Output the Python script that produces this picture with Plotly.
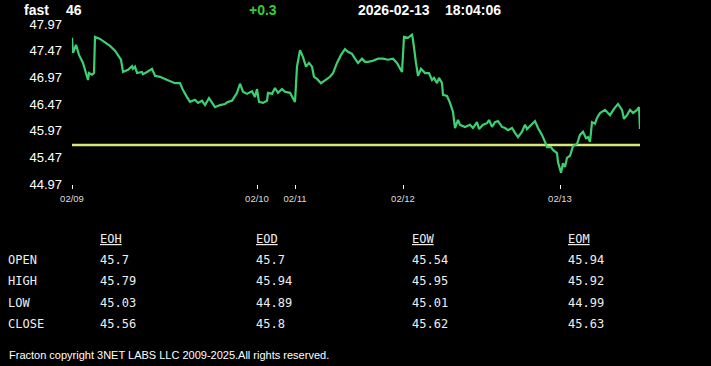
import plotly.graph_objects as go

# ---------------- data ----------------
t_idx = [0, 1, 4, 7, 11, 14, 16, 17, 20, 22, 23, 28, 33, 38, 43, 47, 49, 51, 56, 60,
         61, 63, 65, 70, 71, 75, 80, 83, 88, 93, 98, 103, 108, 111, 115, 118, 123, 126, 130, 133,
         137, 140, 143, 148, 153, 156, 160, 165, 168, 171, 175, 180, 183, 185, 187, 191, 195, 196, 200, 203,
         206, 210, 213, 218, 223, 225, 228, 231, 234, 237, 240, 242, 245, 249, 253, 258, 261, 265, 269, 273,
         276, 280, 283, 286, 290, 293, 296, 301, 306, 311, 316, 321, 325, 330, 332, 336, 340, 341, 344, 346,
         349, 353, 357, 360, 362, 365, 367, 370, 371, 375, 378, 381, 383, 386, 388, 393, 398, 401, 405, 407,
         411, 415, 417, 420, 423, 426, 430, 433, 436, 440, 443, 446, 450, 453, 455, 458, 463, 466, 470, 473,
         475, 479, 481, 485, 486, 489, 491, 493, 495, 498, 501, 505, 508, 511, 514, 516, 518, 520, 523, 525,
         528, 533, 538, 542, 546, 550, 552, 555, 558, 561, 565, 567, 568]
price = [47.71, 47.43, 47.58, 47.39, 47.24, 47.07, 46.92, 47.05, 47.02, 47.05, 47.73, 47.69, 47.62, 47.56, 47.47, 47.35, 47.30, 47.07, 47.11, 47.18,
         47.13, 47.17, 47.05, 47.07, 47.03, 47.07, 47.13, 47.00, 46.98, 46.94, 46.90, 46.86, 46.86, 46.73, 46.60, 46.51, 46.55, 46.49, 46.53, 46.45,
         46.58, 46.49, 46.41, 46.45, 46.47, 46.51, 46.53, 46.68, 46.85, 46.70, 46.66, 46.71, 46.60, 46.75, 46.51, 46.49, 46.53, 46.68, 46.66, 46.77,
         46.68, 46.75, 46.70, 46.68, 46.51, 47.17, 47.48, 47.35, 47.17, 47.24, 47.17, 46.98, 46.94, 46.86, 46.92, 46.98, 47.05, 47.24, 47.39, 47.50,
         47.45, 47.41, 47.32, 47.24, 47.32, 47.26, 47.26, 47.28, 47.32, 47.32, 47.30, 47.32, 47.24, 47.07, 47.73, 47.71, 47.77, 47.67, 47.24, 47.00,
         47.13, 47.05, 47.05, 46.92, 46.96, 46.86, 46.96, 46.86, 46.64, 46.62, 46.49, 46.32, 46.02, 46.17, 46.08, 46.04, 46.08, 46.02, 46.13, 46.00,
         46.08, 46.11, 46.17, 46.04, 46.13, 46.15, 46.04, 46.02, 45.98, 46.02, 45.93, 45.85, 45.95, 46.08, 46.00, 46.06, 46.15, 46.02, 45.89, 45.76,
         45.66, 45.66, 45.61, 45.55, 45.38, 45.18, 45.36, 45.29, 45.46, 45.50, 45.68, 45.72, 45.89, 45.95, 45.83, 45.85, 45.76, 46.13, 46.10, 46.21,
         46.30, 46.36, 46.26, 46.38, 46.47, 46.36, 46.19, 46.26, 46.36, 46.30, 46.36, 46.41, 46.00]

open_level = 45.7

date_ticks = [0, 185, 223, 331, 488]
date_labels = ["02/09", "02/10", "02/11", "02/12", "02/13"]
y_ticks = [44.97, 45.47, 45.97, 46.47, 46.97, 47.47, 47.97]

symbol = "fast"
last_price = "46"
change = "+0.3"
stamp_date = "2026-02-13"
stamp_time = "18:04:06"

table_cols = ["EOH", "EOD", "EOW", "EOM"]
table_rows = ["OPEN", "HIGH", "LOW", "CLOSE"]
table_vals = {
    "EOH": ["45.7", "45.79", "45.03", "45.56"],
    "EOD": ["45.7", "45.94", "44.89", "45.8"],
    "EOW": ["45.54", "45.95", "45.01", "45.62"],
    "EOM": ["45.94", "45.92", "44.99", "45.63"],
}
footer = "Fracton copyright 3NET LABS LLC 2009-2025.All rights reserved."

# ---------------- figure ----------------
W, H = 711, 366
fig = go.Figure()
fig.add_trace(go.Scatter(x=[t_idx[0], t_idx[-1]], y=[open_level, open_level], mode="lines",
                         line=dict(color="#d6e87a", width=2.5), hoverinfo="skip"))
fig.add_trace(go.Scatter(x=t_idx, y=price, mode="lines",
                         line=dict(color="#3cd070", width=2.2), hoverinfo="skip"))

ml, mr, mt, mb = 72, 71, 24, 182
fig.update_layout(
    width=W, height=H, showlegend=False,
    paper_bgcolor="black", plot_bgcolor="black",
    margin=dict(l=ml, r=mr, t=mt, b=mb, pad=0),
    font=dict(family="Liberation Sans, Arial, sans-serif", color="white"),
    xaxis=dict(range=[0, 568], showgrid=False, zeroline=False, showline=False,
               tickvals=date_ticks, ticktext=date_labels, ticks="outside",
               ticklen=4, tickwidth=1, tickcolor="white",
               tickfont=dict(size=9.5, color="#dddddd"), ticklabelstandoff=2),
    yaxis=dict(range=[44.97, 47.97], showgrid=False, zeroline=False, showline=False,
               tickvals=y_ticks, ticktext=[f"{v:.2f}" for v in y_ticks],
               ticks="", tickfont=dict(size=13, color="white"), ticklabelstandoff=9),
)

def ann(xpx, ypx, text, **kw):
    pw = W - ml - mr
    ph = H - mt - mb
    fig.add_annotation(x=(xpx - ml) / pw, y=(H - mb - ypx) / ph, xref="paper", yref="paper",
                       text=text, showarrow=False, xanchor=kw.get("xanchor", "left"),
                       yanchor="middle", font=kw["font"])

hdr = dict(family="Liberation Sans, Arial, sans-serif", size=14, color="white", weight="bold")
ann(22, 9.5, symbol, font=hdr)
ann(64, 9.5, last_price, font=hdr)
ann(247, 9.5, change, font=dict(hdr, color="#33cc33"))
ann(356, 9.5, stamp_date, font=hdr)
ann(443, 9.5, stamp_time, font=hdr)

mono = dict(family="DejaVu Sans Mono, Liberation Mono, monospace", size=12, color="#eeeeee")
col_x = [98, 254, 410, 566]
row_y = [260, 281, 302.5, 324]
for cx, c in zip(col_x, table_cols):
    ann(cx, 238.5, c, font=dict(mono, lineposition="under"))
    for ry, v in zip(row_y, table_vals[c]):
        ann(cx, ry, v, font=mono)
for ry, r in zip(row_y, table_rows):
    ann(6, ry, r, font=mono)

ann(7, 355, footer, font=dict(family="Liberation Sans, Arial, sans-serif", size=11, color="white"))

fig.write_html("out.html", config={"displayModeBar": False},
               post_script="document.body.style.margin='0';document.body.style.overflow='hidden';")
